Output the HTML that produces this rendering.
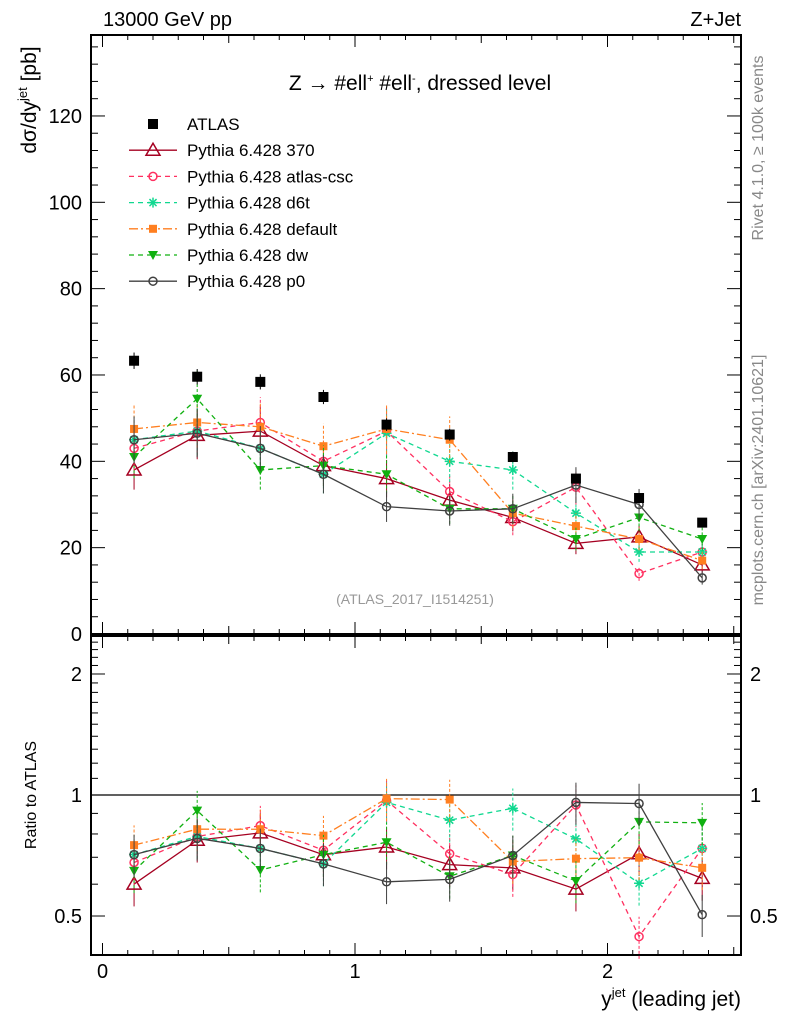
<!DOCTYPE html>
<html><head><meta charset="utf-8"><style>
body{margin:0;background:#fff}
svg{display:block;font-family:"Liberation Sans",sans-serif}
</style></head><body>
<svg id="c" width="786" height="1024" viewBox="0 0 786 1024">
<rect width="786" height="1024" fill="#fff"/>
<text x="103" y="26" font-size="20">13000 GeV pp</text>
<text x="741" y="26" font-size="20" text-anchor="end">Z+Jet</text>
<text x="420" y="90" font-size="21" text-anchor="middle">Z → #ell<tspan font-size="11" dy="-8">+</tspan><tspan dy="8"> #ell</tspan><tspan font-size="11" dy="-8">-</tspan><tspan dy="8">, dressed level</tspan></text>
<text x="415" y="604" font-size="14" fill="#999" text-anchor="middle">(ATLAS_2017_I1514251)</text>
<text transform="translate(763,148) rotate(-90)" font-size="16" fill="#888" text-anchor="middle">Rivet 4.1.0, ≥ 100k events</text>
<text transform="translate(763,480) rotate(-90)" font-size="16" fill="#888" text-anchor="middle">mcplots.cern.ch [arXiv:2401.10621]</text>
<text transform="translate(36,100) rotate(-90)" font-size="21" text-anchor="middle">dσ/dy<tspan font-size="13" dy="-9">jet</tspan><tspan dy="9"> [pb]</tspan></text>
<text transform="translate(36,795) rotate(-90)" font-size="16" text-anchor="middle">Ratio to ATLAS</text>
<text x="741" y="1006" font-size="21" text-anchor="end">y<tspan font-size="13" dy="-9">jet</tspan><tspan dy="9"> (leading jet)</tspan></text>
<g id="g"></g>
</svg>
<script>
const binCenters=[0.125,0.375,0.625,0.875,1.125,1.375,1.625,1.875,2.125,2.375];
const atlas=[63.3,59.6,58.4,54.9,48.5,46.2,41,36,31.5,25.8];
const s370=[38,46,47,39,36,31,27,21,22.5,16];
const sCsc=[43,47,49,40,47,33,26,34,14,19];
const sD6t=[45,47,43,37,46.5,40,38,28,19,19];
const sDef=[47.5,49,48,43.5,47.5,45,28,25,22,17];
const sDw=[41,54.5,38,39,37,29,29,22,27,22];
const sP0=[45,46.5,43,37,29.5,28.5,29,34.5,30,13];
const mainTicks=[0,20,40,60,80,100,120];
const ratioTicks=[0.5,1,2];
const xTicks=[0,1,2];

const NS="http://www.w3.org/2000/svg",G=document.getElementById('g');
const L=91,R=741,T1=35,B1=634,T2=636,B2=955;
const X=v=>102.5+252.5*v;
const Y=v=>634-4.317*v;
const YR=v=>795-402*Math.log10(v);
function mk(t,a,p){const e=document.createElementNS(NS,t);for(const k in a)e.setAttribute(k,a[k]);(p||G).appendChild(e);return e;}

const f1=mk('rect',{x:L,y:T1,width:R-L,height:B1-T1,fill:'none',stroke:'#000','stroke-width':2});


const f2=mk('rect',{x:L,y:T2,width:R-L,height:B2-T2,fill:'none',stroke:'#000','stroke-width':2});


mk('line',{x1:L,x2:R,y1:YR(1),y2:YR(1),stroke:'#000','stroke-width':1.2});

for(let i=0;i*0.1<2.6;i++){const v=i*0.1,x=X(v);if(x>R)break;const len=i%10==0?12:(i%5==0?8:5);
 for(const [b,t] of [[B1,T1],[B2,T2]]){mk('line',{x1:x,x2:x,y1:b,y2:b-len,stroke:'#000'});mk('line',{x1:x,x2:x,y1:t,y2:t+len,stroke:'#000'});}}
xTicks.forEach(v=>{const t=mk('text',{x:X(v),y:978,'font-size':20,'text-anchor':'middle'});t.textContent=v;
 
 });
for(let v=0;v<=138;v+=4){const y=Y(v),len=v%20==0?14:7;mk('line',{x1:L,x2:L+len,y1:y,y2:y,stroke:'#000'});mk('line',{x1:R,x2:R-len,y1:y,y2:y,stroke:'#000'});}
mainTicks.forEach(v=>{const t=mk('text',{x:82,y:Y(v)+7,'font-size':20,'text-anchor':'end'});t.textContent=v;
 
 });
for(let v=0.4;v<=2.45;v+=0.1){const y=YR(v);const maj=Math.abs(v-0.5)<1e-6||Math.abs(v-1)<1e-6||Math.abs(v-2)<1e-6;const len=maj?14:7;
 mk('line',{x1:L,x2:L+len,y1:y,y2:y,stroke:'#000'});mk('line',{x1:R,x2:R-len,y1:y,y2:y,stroke:'#000'});}
ratioTicks.forEach(v=>{[[82,'end'],[750,'start']].forEach(([x,a])=>{const t=mk('text',{x:x,y:YR(v)+7,'font-size':20,'text-anchor':a});t.textContent=v;
 
 });});

function marker(kind,x,y,c){
 if(kind=='tri')mk('path',{d:`M${x},${y-7}L${x+7},${y+5}L${x-7},${y+5}Z`,fill:'none',stroke:c,'stroke-width':1.5});
 else if(kind=='circ')mk('circle',{cx:x,cy:y,r:4,fill:'none',stroke:c,'stroke-width':1.5});
 else if(kind=='star'){for(let a=0;a<4;a++){const r=5,an=a*Math.PI/4;mk('line',{x1:x-r*Math.cos(an),y1:y-r*Math.sin(an),x2:x+r*Math.cos(an),y2:y+r*Math.sin(an),stroke:c,'stroke-width':1.5});}}
 else if(kind=='fsq')mk('rect',{x:x-4,y:y-4,width:8,height:8,fill:c});
 else if(kind=='itri')mk('path',{d:`M${x-5},${y-4}L${x+5},${y-4}L${x},${y+5}Z`,fill:c});
}
const series=[
 {n:'370',d:s370,c:'#a50021',m:'tri',dash:''},
 {n:'atlas-csc',d:sCsc,c:'#ff3060',m:'circ',dash:'5,4'},
 {n:'d6t',d:sD6t,c:'#10d890',m:'star',dash:'5,4'},
 {n:'default',d:sDef,c:'#ff7f20',m:'fsq',dash:'9,3,2,3'},
 {n:'dw',d:sDw,c:'#10b010',m:'itri',dash:'5,4'},
 {n:'p0',d:sP0,c:'#404040',m:'circ',dash:''}];
series.forEach(s=>{
 const gg=mk('g',{});
 
 
 const pts=s.d.map((v,i)=>X(binCenters[i])+','+Y(v)).join(' ');
 mk('polyline',{points:pts,fill:'none',stroke:s.c,'stroke-width':1.3,'stroke-dasharray':s.dash},gg);
 const rp=s.d.map((v,i)=>X(binCenters[i])+','+YR(v/atlas[i])).join(' ');
 mk('polyline',{points:rp,fill:'none',stroke:s.c,'stroke-width':1.3,'stroke-dasharray':s.dash},gg);
 s.d.forEach((v,i)=>{const x=X(binCenters[i]),e=v*0.12,r=v/atlas[i],er=r*0.12;
  mk('line',{x1:x,x2:x,y1:Y(v-e),y2:Y(v+e),stroke:s.c,'stroke-dasharray':s.dash?'3,2':''},gg);
  mk('line',{x1:x,x2:x,y1:YR(r-er),y2:YR(r+er),stroke:s.c,'stroke-dasharray':s.dash?'3,2':''},gg);
  marker(s.m,x,Y(v),s.c);marker(s.m,x,YR(r),s.c);});
});
atlas.forEach((v,i)=>{const x=X(binCenters[i]);mk('line',{x1:x,x2:x,y1:Y(v*0.97),y2:Y(v*1.03),stroke:'#000'});const r=mk('rect',{x:x-5,y:Y(v)-5,width:10,height:10,fill:'#000'});
 
 });

const lg=mk('g',{});


const names=['ATLAS'].concat(series.map(s=>'Pythia 6.428 '+s.n));
names.forEach((nm,i)=>{const y=124+i*26.2;
 if(i==0)mk('rect',{x:148,y:y-5,width:10,height:10,fill:'#000'},lg);
 else{const s=series[i-1];mk('line',{x1:129,x2:177,y1:y,y2:y,stroke:s.c,'stroke-width':1.3,'stroke-dasharray':s.dash},lg);marker(s.m,153,y,s.c);}
 const t=mk('text',{x:187,y:y+6,'font-size':17},lg);t.textContent=nm;
 
 });
</script>
</body></html>
